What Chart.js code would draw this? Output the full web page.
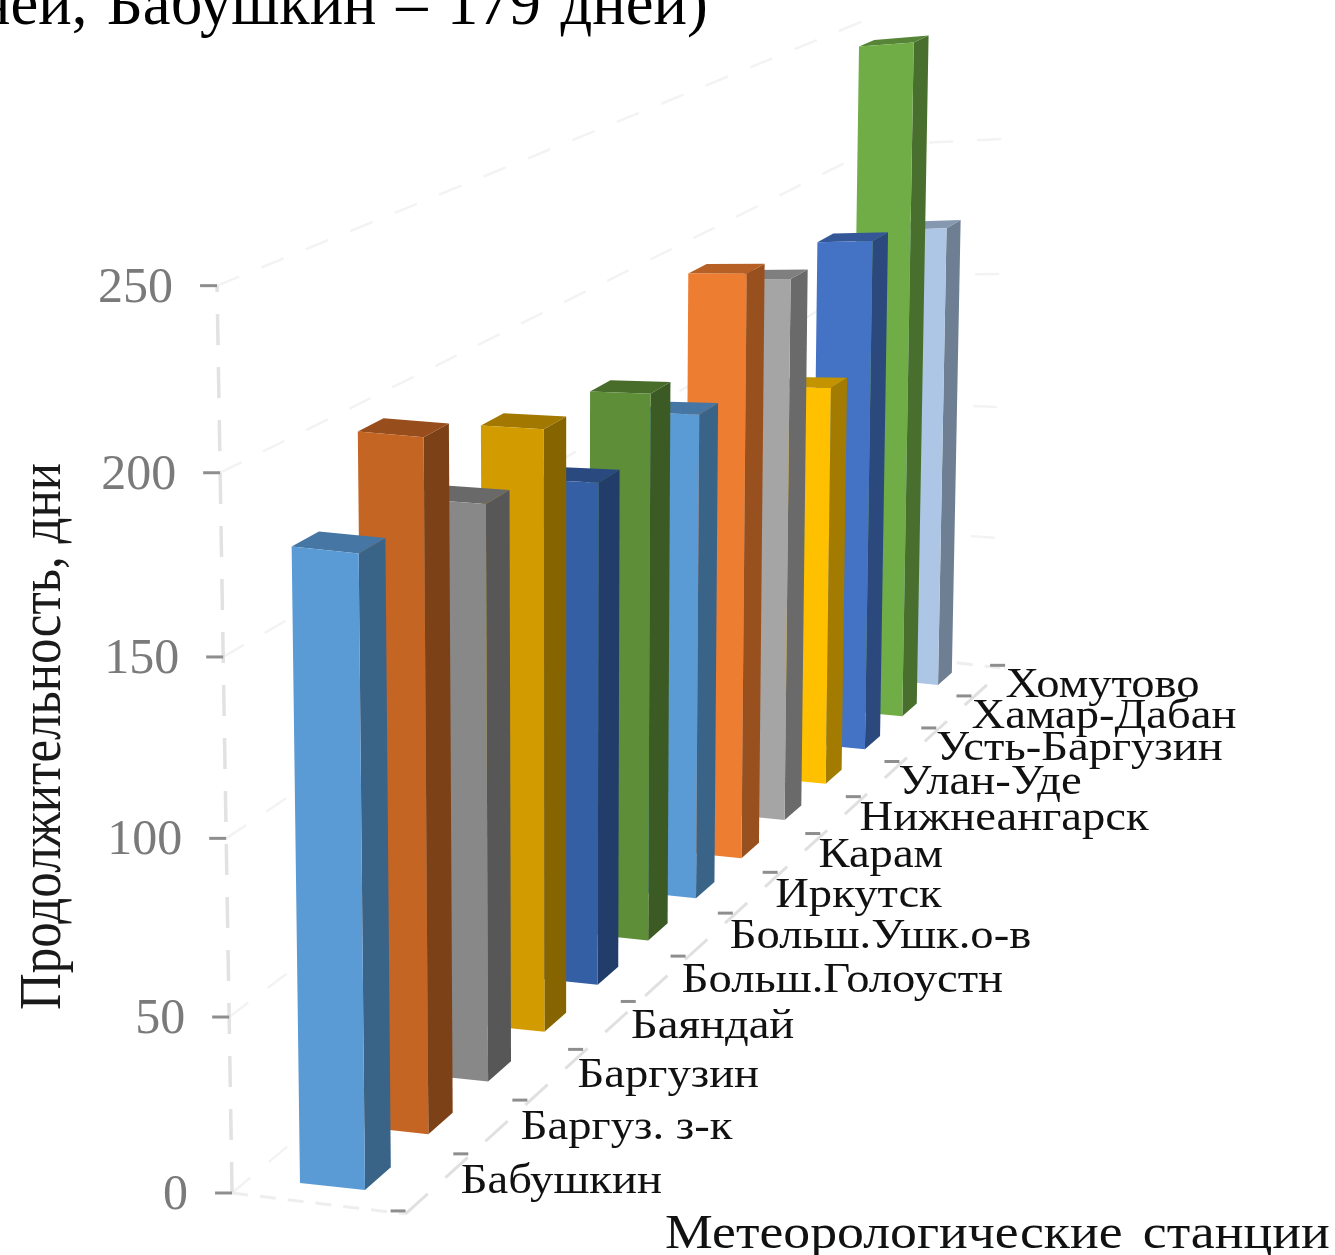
<!DOCTYPE html>
<html>
<head>
<meta charset="utf-8">
<style>
  html, body { margin: 0; padding: 0; background: #fff; overflow: hidden; }
  canvas { display: block; }
</style>
<script src="https://cdn.jsdelivr.net/npm/chart.js@4/dist/chart.umd.js"></script>
</head>
<body>
<canvas id="chart" width="1335" height="1255"></canvas>
<script>
const stations = [
  "Бабушкин", "Баргуз. з-к", "Баргузин", "Баяндай", "Больш.Голоустн",
  "Больш.Ушк.о-в", "Иркутск", "Карам", "Нижнеангарск", "Улан-Уде",
  "Усть-Баргузин", "Хамар-Дабан", "Хомутово",
];
const days = [179, 201, 172, 184, 158, 176, 160, 197, 187, 141, 184, 247, 173];
const barColors = [
  "#5b9bd5", "#c46524", "#888888", "#d29c00", "#355fa5", "#5e8e38", "#5b9bd5",
  "#ed7d31", "#a5a5a5", "#ffc000", "#4472c4", "#70ad47", "#adc6e5",
];

const FLOOR_LEFT = -0.73;
const FLOOR_RIGHT = 1.92;
const BAR_SERIF = '"Liberation Serif", serif';

// perspective box: across (0..1 is a bar width), depth (0..13 stations), value in days
function project(across, depth, value) {
  const u = depth - 0.3;
  const w = 1 + 0.03065 * u;
  const rightEdge = (365 + 76.5 * u) / w;
  const baseX = rightEdge + (65 * (across - 1)) / (across < 1 ? 1 + 0.021 * u : w);
  const tilt = across < 0 ? 10 : 7;
  const baseY = (1183 + tilt * across - 21.1 * u) / w;
  const h = (value * 3.46) / (1 - 0.00015 * value) / (1 + (0.0305 - 0.0017 * across) * u);
  return { x: baseX + (baseX - 563) * 5e-5 * h, y: baseY - h };
}

function shade(hex, f) {
  const n = parseInt(hex.slice(1), 16);
  const c = [n >> 16, (n >> 8) & 255, n & 255].map((v) => Math.round(v * f));
  return `rgb(${c[0]},${c[1]},${c[2]})`;
}

function poly(ctx, pts, color) {
  ctx.fillStyle = color;
  ctx.beginPath();
  pts.forEach((p, i) => (i ? ctx.lineTo(p.x, p.y) : ctx.moveTo(p.x, p.y)));
  ctx.closePath();
  ctx.fill();
}

function line(ctx, a, b, color, width, dash) {
  ctx.strokeStyle = color;
  ctx.lineWidth = width;
  ctx.setLineDash(dash || []);
  ctx.beginPath();
  ctx.moveTo(a.x, a.y);
  ctx.lineTo(b.x, b.y);
  ctx.stroke();
  ctx.setLineDash([]);
}

function wideText(ctx, text, x, y, stretch) {
  ctx.save();
  ctx.translate(x, y);
  ctx.scale(stretch, 1);
  ctx.fillText(text, 0, 0);
  ctx.restore();
}

// bars are laid out by the normal bar controller, then drawn as boxes back to front
class Bar3DController extends Chart.BarController {
  static id = "bar3d";
  static defaults = Chart.BarController.defaults;

  draw() {
    const ctx = this.chart.ctx;
    const { data, xScale, yScale } = this._cachedMeta;
    const toDepth = (px) => ((px - xScale.left) / xScale.width) * stations.length;
    for (let i = data.length - 1; i >= 0; i--) {
      const bar = data[i];
      const front = toDepth(bar.x - bar.width / 2);
      const back = toDepth(bar.x + bar.width / 2);
      const v = yScale.getValueForPixel(bar.y);
      const color = bar.options.backgroundColor;
      poly(ctx, [project(1, front, 0), project(1, back, 0), project(1, back, v), project(1, front, v)], shade(color, 0.64));
      poly(ctx, [project(0, front, v), project(1, front, v), project(1, back, v), project(0, back, v)], shade(color, 0.77));
      poly(ctx, [project(0, front, 0), project(1, front, 0), project(1, front, v), project(0, front, v)], color);
    }
  }
}
Chart.register(Bar3DController);

const walls = {
  id: "walls",
  beforeDatasetsDraw(chart) {
    const ctx = chart.ctx;
    const n = stations.length;
    const yTicks = chart.scales.y.ticks;

    yTicks.forEach((t) => {
      line(ctx, project(FLOOR_LEFT, 0, t.value), project(FLOOR_LEFT, n, t.value), "#f3f3f3", 2.5, [24, 24]);
      if (t.value > 0 && t.value < chart.scales.y.max) {
        line(ctx, project(FLOOR_LEFT, n, t.value), project(FLOOR_RIGHT, n, t.value), "#f3f3f3", 2.5, [24, 24]);
      }
    });
    line(ctx, project(FLOOR_LEFT, 0, 0), project(FLOOR_LEFT, 0, chart.scales.y.max), "#e2e2e2", 3.5, [31, 22]);
    line(ctx, project(FLOOR_LEFT, 0, 0), project(FLOOR_RIGHT, 0, 0), "#eeeeee", 3, [16, 12]);
    line(ctx, project(FLOOR_LEFT, n, 0), project(FLOOR_RIGHT, n, 0), "#eeeeee", 3, [16, 12]);
    line(ctx, project(FLOOR_RIGHT, 0, 0), project(FLOOR_RIGHT, n, 0), "#e0e0e0", 3, [30, 24]);

    // tick marks on the value axis and along the station axis
    yTicks.forEach((t) => {
      const p = project(FLOOR_LEFT, 0, t.value);
      line(ctx, { x: p.x - 17, y: p.y }, p, "#8e8e8e", 3);
    });
    for (let i = 0; i <= n; i++) {
      const p = project(FLOOR_RIGHT, i, 0);
      line(ctx, { x: p.x - 15, y: p.y - 3 }, { x: p.x, y: p.y - 3 }, "#8e8e8e", 3);
    }
  },
  afterDatasetsDraw(chart) {
    const ctx = chart.ctx;
    ctx.save();
    ctx.textBaseline = "alphabetic";

    // value labels
    ctx.font = `50px ${BAR_SERIF}`;
    ctx.fillStyle = "#7a7a7a";
    ctx.textAlign = "right";
    chart.scales.y.ticks.forEach((t) => {
      const p = project(FLOOR_LEFT, 0, t.value);
      ctx.fillText(t.label, p.x - 44, p.y + 16);
    });

    // station labels
    ctx.font = `42px ${BAR_SERIF}`;
    ctx.fillStyle = "#111";
    ctx.textAlign = "left";
    chart.scales.x.getLabels().forEach((name, i) => {
      const p = project(2.28, i + 0.5, 0);
      wideText(ctx, name, p.x, p.y + 6 + i * 0.5, 1.11);
    });

    // heading line and axis names
    ctx.font = `62.5px ${BAR_SERIF}`;
    ctx.fillStyle = "#000";
    ctx.wordSpacing = "4px";
    ctx.fillText("ней, Бабушкин – 179 дней)", -23, 24);

    ctx.font = `48px ${BAR_SERIF}`;
    ctx.fillStyle = "#111";
    ctx.wordSpacing = "6px";
    wideText(ctx, "Метеорологические станции", 665, 1248, 1.12);
    ctx.wordSpacing = "0px";

    ctx.save();
    ctx.translate(60, 1010);
    ctx.rotate(-Math.PI / 2);
    ctx.scale(1, 1.14);
    ctx.font = `51px ${BAR_SERIF}`;
    ctx.fillStyle = "#1a1a1a";
    ctx.fillText("Продолжительность, дни", 0, 0);
    ctx.restore();

    ctx.restore();
  },
};

new Chart(document.getElementById("chart"), {
  type: "bar3d",
  data: {
    labels: stations,
    datasets: [
      {
        data: days,
        backgroundColor: barColors,
        barPercentage: 0.4,
        categoryPercentage: 1,
        clip: false,
      },
    ],
  },
  plugins: [walls],
  options: {
    responsive: false,
    animation: false,
    events: [],
    layout: { padding: { top: 288, bottom: 65, left: 0, right: 0 } },
    plugins: { legend: { display: false }, tooltip: { enabled: false } },
    scales: {
      x: { type: "category", offset: true, display: false },
      y: { type: "linear", min: 0, max: 250, display: false, ticks: { stepSize: 50 } },
    },
  },
});
</script>
</body>
</html>
